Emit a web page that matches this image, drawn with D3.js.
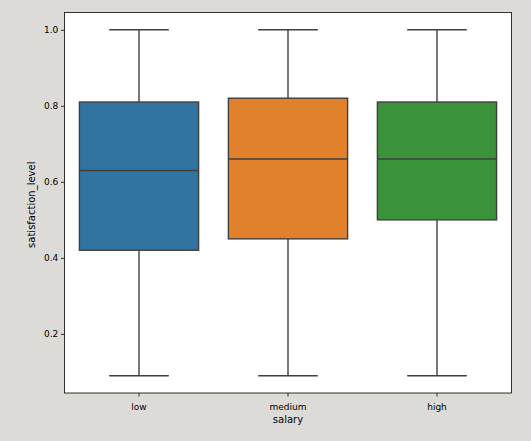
<!DOCTYPE html>
<html>
<head>
<meta charset="utf-8">
<script src="https://cdn.jsdelivr.net/npm/d3@7"></script>
<style>
  html, body { margin: 0; padding: 0; background: #dcdbd7; }
  svg { display: block; font-family: "DejaVu Sans", sans-serif; }
</style>
</head>
<body>
<svg width="531" height="441"></svg>
<script>
let width = 531;
let height = 441;

// box statistics
let categories = ['low', 'medium', 'high'];
let colors = ['#3274a1', '#e1812c', '#3a923a'];
let whiskerLow = [0.09, 0.09, 0.09];
let q1 = [0.42, 0.45, 0.50];
let median = [0.63, 0.66, 0.66];
let q3 = [0.81, 0.82, 0.81];
let whiskerHigh = [1.0, 1.0, 1.0];
let yTicks = [0.2, 0.4, 0.6, 0.8, 1.0];

let margin = {left: 64.5, right: 19.5, top: 12.5, bottom: 48};
let lineColor = '#3f3f3f';

let boxes = categories.map((c, i) => ({
  cat: c, color: colors[i],
  lo: whiskerLow[i], q1: q1[i], med: median[i], q3: q3[i], hi: whiskerHigh[i]
}));

let x = d3.scaleBand()
  .domain(categories)
  .range([margin.left, width - margin.right]);

let pad = (1.0 - 0.09) * 0.05;
let y = d3.scaleLinear()
  .domain([0.09 - pad, 1.0 + pad])
  .range([height - margin.bottom, margin.top]);

let svg = d3.select('svg');

svg.append('rect')
  .attr('x', margin.left)
  .attr('y', margin.top)
  .attr('width', width - margin.left - margin.right)
  .attr('height', height - margin.top - margin.bottom)
  .attr('fill', 'white');

let boxW = x.bandwidth() * 0.8;
let capW = boxW * 0.5;

let g = svg.append('g')
  .selectAll('g')
  .data(boxes)
  .enter()
    .append('g')
    .attr('transform', d => `translate(${x(d.cat) + x.bandwidth() / 2},0)`);

// whiskers
g.append('line')
  .attr('x1', 0).attr('x2', 0)
  .attr('y1', d => y(d.lo)).attr('y2', d => y(d.q1))
  .attr('stroke', lineColor).attr('stroke-width', 1.4);
g.append('line')
  .attr('x1', 0).attr('x2', 0)
  .attr('y1', d => y(d.q3)).attr('y2', d => y(d.hi))
  .attr('stroke', lineColor).attr('stroke-width', 1.4);
// caps
g.append('line')
  .attr('x1', -capW / 2).attr('x2', capW / 2)
  .attr('y1', d => y(d.lo)).attr('y2', d => y(d.lo))
  .attr('stroke', lineColor).attr('stroke-width', 1.4);
g.append('line')
  .attr('x1', -capW / 2).attr('x2', capW / 2)
  .attr('y1', d => y(d.hi)).attr('y2', d => y(d.hi))
  .attr('stroke', lineColor).attr('stroke-width', 1.4);
// box
g.append('rect')
  .attr('x', -boxW / 2)
  .attr('width', boxW)
  .attr('y', d => y(d.q3))
  .attr('height', d => y(d.q1) - y(d.q3))
  .attr('fill', d => d.color)
  .attr('stroke', lineColor).attr('stroke-width', 1.4);
// median
g.append('line')
  .attr('x1', -boxW / 2).attr('x2', boxW / 2)
  .attr('y1', d => y(d.med)).attr('y2', d => y(d.med))
  .attr('stroke', lineColor).attr('stroke-width', 1.4);

// axes
let xAxis = svg.append('g')
  .attr('transform', `translate(0,${height - margin.bottom})`)
  .call(d3.axisBottom(x).tickSize(3.5).tickPadding(7));
let yAxis = svg.append('g')
  .attr('transform', `translate(${margin.left},0)`)
  .call(d3.axisLeft(y).tickValues(yTicks).tickFormat(d3.format('.1f')).tickSize(3.5).tickPadding(2.7));

[xAxis, yAxis].forEach(a => {
  a.select('.domain').remove();
  a.selectAll('.tick line').attr('stroke', '#000').attr('stroke-width', 0.8);
  a.selectAll('.tick text').attr('fill', '#000').attr('font-size', 9)
    .attr('font-family', '"DejaVu Sans", sans-serif');
});

// frame
svg.append('rect')
  .attr('x', margin.left)
  .attr('y', margin.top)
  .attr('width', width - margin.left - margin.right)
  .attr('height', height - margin.top - margin.bottom)
  .attr('fill', 'none')
  .attr('stroke', '#000')
  .attr('stroke-width', 0.8);

svg.append('text')
  .attr('x', margin.left + (width - margin.left - margin.right) / 2)
  .attr('y', 422.5)
  .attr('text-anchor', 'middle')
  .attr('font-size', 10)
  .text('salary');

svg.append('text')
  .attr('transform', `translate(35,${(margin.top + height - margin.bottom) / 2 + 2}) rotate(-90)`)
  .attr('text-anchor', 'middle')
  .attr('font-size', 10)
  .text('satisfaction_level');
</script>
</body>
</html>
